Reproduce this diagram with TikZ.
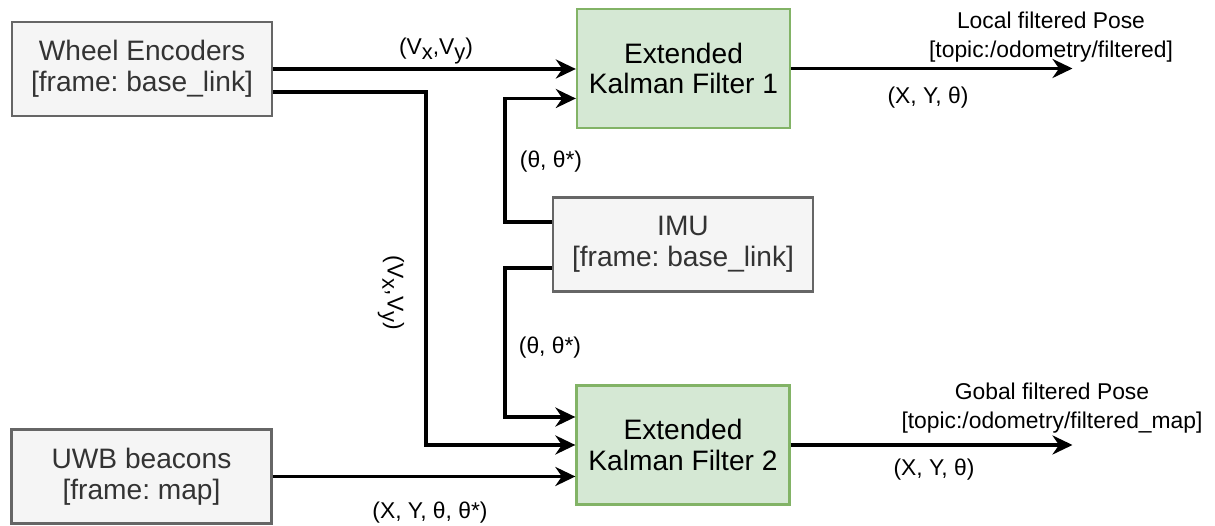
\documentclass[tikz,border=0pt]{standalone}
\usepackage{fontspec}
\setmainfont{Liberation Sans}
\usepackage{tikz}
\usetikzlibrary{arrows.meta, positioning, calc}
\definecolor{boxfill}{HTML}{F5F5F5}
\definecolor{boxline}{HTML}{666666}
\definecolor{boxtext}{HTML}{333333}
\definecolor{ekffill}{HTML}{D5E8D4}
\definecolor{ekfline}{HTML}{82B366}
\newcommand{\lowsub}[1]{\raisebox{-0.45ex}{\fontsize{12.5}{12.5}\selectfont #1}}
\frenchspacing

\begin{document}
\begin{tikzpicture}[
    sensor/.style={draw=boxline, fill=boxfill, line width=1.3pt, minimum width=5.2cm,
                   minimum height=1.88cm, align=center, inner sep=1pt, text=boxtext,
                   font=\fontsize{16}{17.5}\selectfont},
    ekf/.style={draw=ekfline, fill=ekffill, line width=1.3pt, minimum width=4.26cm,
                minimum height=2.38cm, align=center, inner sep=1pt,
                font=\fontsize{16}{17.5}\selectfont},
    lbl/.style={font=\fontsize{13}{16.5}\selectfont, align=center, inner sep=1pt},
    link/.style={line width=1.9pt, -{Stealth[length=4mm, width=3.8mm, inset=1.3mm]}}
]
\useasboundingbox (0,0) rectangle (24.3,10.52);
% ============== sensors =================================================
\node[sensor] (wheel) at (2.84,9.14) {Wheel Encoders\\{}[frame: base\_link]};
\node[sensor] (imu)   at (13.66,5.63) {IMU\\{}[frame: base\_link]};
\node[sensor] (uwb)   at (2.83,0.99) {UWB beacons\\{}[frame: map]};
% ============== filters =================================================
\node[ekf] (ekf1) at (13.67,9.15) {Extended\\Kalman Filter 1};
\node[ekf] (ekf2) at (13.66,1.62) {Extended\\Kalman Filter 2};
% output ends
\coordinate (out1) at (21.45,9.15);
\coordinate (out2) at (21.45,1.62);
% ============== connectors ==============================================
\draw[link] (wheel.east) -- (wheel.east -| ekf1.west);
\draw[link] ([yshift=-0.46cm]wheel.east) -- ++(3.06,0) |- (ekf2.west);
\draw[link] ([yshift=0.45cm]imu.west) -- ++(-0.94,0) |- ([yshift=-0.6cm]ekf1.west);
\draw[link] ([yshift=-0.47cm]imu.west) -- ++(-0.94,0) |- ([yshift=0.56cm]ekf2.west);
\draw[link] (uwb.east) -- (uwb.east -| ekf2.west);
\draw[link] (ekf1.east) -- (out1);
\draw[link] (ekf2.east) -- (out2);
% ============== labels ==================================================
\node[lbl] (vxy)   at (8.72,9.5) {(V\lowsub{x},V\lowsub{y})};
\node[lbl, rotate=-90] (vxyv) at (7.82,4.66) {(V\lowsub{x},V\lowsub{y})};
\node[lbl] (th1)   at (11.02,7.28) {(θ, θ*)};
\node[lbl] (th2)   at (11.0,3.56) {(θ, θ*)};
\node[lbl] (uwbxy) at (8.6,0.26) {(X, Y, θ, θ*)};
\node[lbl] (pose1) at (18.56,8.56) {(X, Y, θ)};
\node[lbl] (pose2) at (18.68,1.12) {(X, Y, θ)};
\node[lbl] (local)  at (21.02,9.78) {Local filtered Pose\\{}[topic:/odometry/filtered]};
\node[lbl] (global) at (21.04,2.35) {Gobal filtered Pose\\{}[topic:/odometry/filtered\_map]};
\end{tikzpicture}
\end{document}
